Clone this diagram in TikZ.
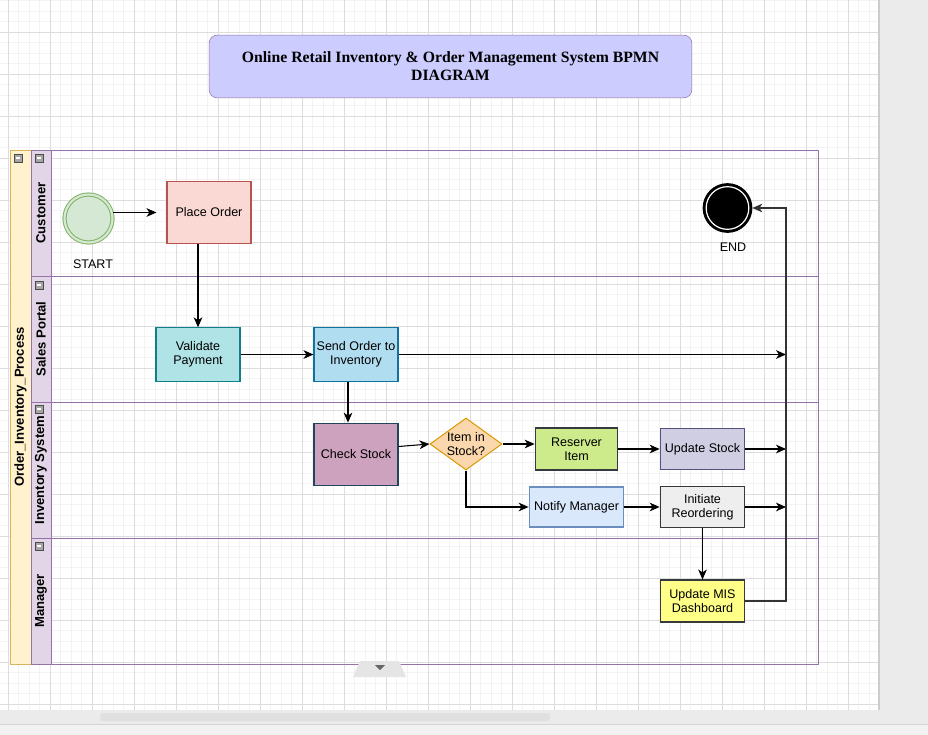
\documentclass[tikz,border=0pt]{standalone}
\usepackage{fontspec}
\setmainfont{Liberation Sans}
\newfontfamily\headserif{Liberation Serif}
\usetikzlibrary{positioning,shapes.geometric,arrows.meta}

\definecolor{titlefill}{HTML}{CCCCFF}
\definecolor{lanepurple}{HTML}{9673A6}
\definecolor{lanefill}{HTML}{E1D5E7}
\definecolor{poolfill}{HTML}{FFF2CC}
\definecolor{poolline}{HTML}{D6B656}
\definecolor{startfill}{HTML}{D5E8D4}
\definecolor{startline}{HTML}{82B366}
\definecolor{placefill}{HTML}{FAD9D5}
\definecolor{placeline}{HTML}{B85450}
\definecolor{validfill}{HTML}{B0E3E6}
\definecolor{validline}{HTML}{0E8088}
\definecolor{sendfill}{HTML}{B1DDF0}
\definecolor{sendline}{HTML}{10739E}
\definecolor{checkfill}{HTML}{CDA2BE}
\definecolor{checkline}{HTML}{23445D}
\definecolor{decfill}{HTML}{FAD7AC}
\definecolor{decline}{HTML}{D79B00}
\definecolor{reservefill}{HTML}{CDEB8B}
\definecolor{darkline}{HTML}{36393D}
\definecolor{notifyfill}{HTML}{DAE8FC}
\definecolor{notifyline}{HTML}{6C8EBF}
\definecolor{upstockfill}{HTML}{D0CEE2}
\definecolor{upstockline}{HTML}{56517E}
\definecolor{reorderfill}{HTML}{EEEEEE}
\definecolor{misfill}{HTML}{FFFF88}
\definecolor{railgrey}{HTML}{333333}
\definecolor{minorgrid}{HTML}{F3F3F3}
\definecolor{majorgrid}{HTML}{DDDDDD}
\definecolor{uigrey}{HTML}{EBEBEB}

\begin{document}
\begin{tikzpicture}[x=0.75pt,y=-0.75pt,
    font=\fontsize{9.4}{10.8}\selectfont,
    task/.style={draw, align=center, inner sep=1pt, line width=0.8pt},
    flow/.style={-{Stealth[length=7.5pt,width=6.5pt,inset=2.2pt]}, line width=0.8pt},
    lanebar/.style={draw=lanepurple, fill=lanefill, line width=0.75pt},
    laneline/.style={draw=lanepurple, line width=0.75pt},
    lanetext/.style={rotate=90, font=\fontsize{9.8}{11}\selectfont\bfseries},
    fold/.style={draw=black!70, fill=black!35, line width=0.4pt}]

    \useasboundingbox (0,0) rectangle (928,735);
    \fill[white] (0,0) rectangle (928,735);

    % grid
    \begin{scope}
        \clip (0,0) rectangle (878,710);
        \foreach \k in {0,...,82} \draw[minorgrid, line width=0.6pt] ({8+10.5*\k},0) -- ({8+10.5*\k},710);
        \foreach \k in {0,...,67} \draw[minorgrid, line width=0.6pt] (0,{0.5+10.5*\k}) -- (878,{0.5+10.5*\k});
        \foreach \k in {0,...,20} \draw[majorgrid, line width=0.6pt] ({8+42*\k},0) -- ({8+42*\k},710);
        \foreach \k in {0,...,16} \draw[majorgrid, line width=0.6pt] (0,{32+42*\k}) -- (878,{32+42*\k});
    \end{scope}
    \fill[uigrey] (878,0) rectangle (928,735);
    \fill[black!20] (878,0) rectangle (880,710);
    \fill[uigrey] (0,710) rectangle (928,735);
    \fill[black!12, rounded corners=2pt] (100,713) rectangle (550,721);
    \fill[black!5] (0,724) rectangle (928,735);
    \draw[black!17] (0,724) -- (928,724);

    % title
    \node[draw=lanepurple, fill=titlefill, rounded corners=6pt, minimum width=362pt, minimum height=47pt,
          align=center, font=\headserif\bfseries\fontsize{11.8}{13.6}\selectfont] (title) at (450.5,66.5)
        {Online Retail Inventory \& Order Management System BPMN\\DIAGRAM};

    % pool and lanes
    \draw[draw=poolline, fill=poolfill, line width=0.75pt] (10,150) rectangle (31,664);
    \draw[lanebar] (31,150) rectangle (51,276);
    \draw[lanebar] (31,276) rectangle (51,402);
    \draw[lanebar] (31,402) rectangle (51,538);
    \draw[lanebar] (31,538) rectangle (51,664);
    \draw[laneline] (31,150) rectangle (818,664);
    \foreach \y in {276,402,538} \draw[laneline] (31,\y) -- (818,\y);
    \foreach \x/\y in {14/154, 35/154, 35/281, 35/405, 35/542} {
        \draw[fold] (\x,\y) rectangle ++(8,8);
        \draw[white, line width=0.8pt] (\x+2,\y+4) -- ++(4,0);
    }
    \node[lanetext] (pool) at (20.5,407) {Order\_Inventory\_Process};
    \node[lanetext] (lcust) at (41,213) {Customer};
    \node[lanetext] (lsales) at (41,339) {Sales Portal};
    \node[lanetext] (linv) at (41,470) {Inventory System};
    \node[lanetext] (lman) at (41,601) {Manager};

    % events
    \node[circle, draw=startline, fill=startfill, double=startfill, double distance=1.6pt,
          line width=0.75pt, minimum size=36pt] (start) at (88.5,218.5) {};
    \node (startlbl) at (93,264) {START};
    \node[circle, draw=black, fill=black, line width=2.3pt, minimum size=35pt] (end) at (727.5,208) {};
    \draw[white, line width=0.9pt] (end) circle (16pt);
    \node (endlbl) at (733,247) {END};

    % tasks
    \node[task, draw=placeline, fill=placefill, minimum width=63pt, minimum height=47pt] (place) at (209,212.5) {Place Order};
    \node[task, draw=validline, fill=validfill, minimum width=63pt, minimum height=40pt] (valid) at (198,354.5) {Validate\\Payment};
    \node[task, draw=sendline, fill=sendfill, minimum width=63pt, minimum height=40pt] (send) at (356,354.5) {Send Order to\\Inventory};
    \node[task, draw=checkline, fill=checkfill, minimum width=63pt, minimum height=47pt] (check) at (356,454.5) {Check Stock};
    \node[diamond, draw=decline, fill=decfill, line width=0.75pt, minimum width=54pt, minimum height=39pt, inner sep=0pt,
          label={[align=center]center:Item in\\Stock?}] (dec) at (466,444) {};
    \node[task, draw=darkline, fill=reservefill, minimum width=62pt, minimum height=31.5pt] (reserve) at (576.5,449) {Reserver\\Item};
    \node[task, draw=notifyline, fill=notifyfill, minimum width=71pt, minimum height=30pt] (notify) at (576.5,507) {Notify Manager};
    \node[task, draw=upstockline, fill=upstockfill, minimum width=63.5pt, minimum height=31pt] (upstock) at (702.5,449) {Update Stock};
    \node[task, draw=darkline, fill=reorderfill, minimum width=63.5pt, minimum height=31pt] (reorder) at (702.5,507) {Initiate\\Reordering};
    \node[task, draw=darkline, fill=misfill, minimum width=63.5pt, minimum height=31.5pt] (mis) at (702.5,601) {Update MIS\\Dashboard};

    % free ends on the right
    \coordinate (bus1) at (786,354.5);
    \coordinate (bus2) at (786,449);
    \coordinate (bus3) at (786,507);
    \coordinate (rail) at (786,208);

    % flows
    \draw[flow] (start.east |- place.west) -- ([xshift=-7.5pt]place.west);
    \draw[flow] (place.south -| valid.north) -- (valid.north);
    \draw[flow] (valid) -- (send);
    \draw[flow] (send) -- (bus1);
    \draw[flow] ([xshift=-6pt]send.south) -- ([xshift=-6pt]check.north);
    \draw[flow] ([yshift=6pt]check.east) -- (dec.west);
    \draw[flow] (dec.east) -- (dec.east -| reserve.west);
    \draw[flow] (dec.south) |- (notify.west);
    \draw[flow] (reserve) -- (upstock);
    \draw[flow] (upstock.east) -- (bus2);
    \draw[flow] (notify) -- (reorder);
    \draw[flow] (reorder.east) -- (bus3);
    \draw[flow] (reorder) -- (mis);
    \draw[flow, draw=railgrey] (mis.east) -| (rail) -- (end.east);

    % collapse tab
    \fill[black!10] (353,677) -- (360,661) -- (399,661) -- (406,677) -- cycle;
    \fill[black!60] (375,665) -- (385,665) -- (380,670) -- cycle;
\end{tikzpicture}
\end{document}
